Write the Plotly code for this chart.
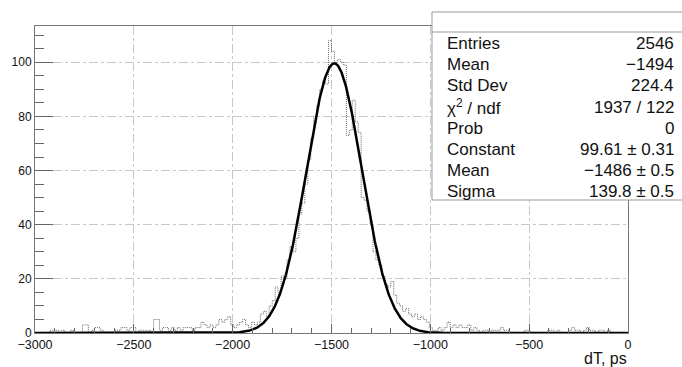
import numpy as np
import plotly.graph_objects as go

# ---- data ----
x_min, x_max, n_bins = -3000.0, 0.0, 200
counts = [
    0, 0, 0, 0, 0, 1, 1, 1, 0, 1,
    0, 0, 1, 0, 0, 0, 3, 3, 0, 1,
    2, 2, 1, 0, 0, 0, 0, 1, 1, 2,
    2, 1, 2, 2, 0, 1, 1, 1, 1, 0,
    5, 5, 1, 2, 2, 1, 2, 1, 2, 1,
    2, 2, 2, 1, 2, 2, 4, 3, 2, 3,
    2, 3, 5, 4, 5, 6, 3, 2, 3, 4,
    5, 3, 2, 4, 3, 4, 7, 8, 6, 10,
    12, 17, 15, 21, 20, 27, 32, 30, 35, 44,
    48, 55, 64, 72, 80, 84, 90, 93, 92, 108,
    104, 100, 101, 100, 99, 73, 75, 86, 78, 74,
    50, 49, 45, 40, 30, 27, 25, 21, 18, 17,
    19, 14, 11, 10, 8, 9, 7, 6, 7, 5,
    6, 5, 4, 2, 1, 1, 2, 1, 2, 4,
    2, 3, 2, 3, 2, 2, 3, 1, 2, 1,
    0, 1, 1, 0, 1, 1, 1, 2, 1, 1,
    0, 0, 0, 0, 0, 1, 1, 0, 0, 0,
    0, 0, 0, 1, 1, 0, 1, 0, 0, 0,
    1, 2, 1, 1, 0, 1, 2, 1, 1, 0,
    1, 1, 0, 1, 0, 0, 0, 0, 0, 0,
]
fit_constant, fit_mean, fit_sigma = 99.61, -1486.0, 139.8
stats_labels = ["Entries", "Mean", "Std Dev", "χ<sup>2</sup> / ndf", "Prob",
                "Constant", "Mean", "Sigma"]
stats_values = ["2546", "−1494", "224.4", "1937 / 122", "0",
                "99.61 ± 0.31", "−1486 ± 0.5", "139.8 ± 0.5"]
x_title = "dT, ps"

# ---- figure geometry ----
W, H = 682, 367
ML, MR, MT, MB = 35, 54, 26, 34
pw, ph = W - ML - MR, H - MT - MB


def px2paper_x(px):
    return (px - ML) / pw


def px2paper_y(py):
    return (H - MB - py) / ph


edges = np.linspace(x_min, x_max, n_bins + 1)
hist_y = list(counts) + [counts[-1]]

xf = np.linspace(x_min, x_max, 1200)
yf = fit_constant * np.exp(-0.5 * ((xf - fit_mean) / fit_sigma) ** 2)

fig = go.Figure()
fig.add_trace(go.Scatter(x=edges, y=hist_y, mode="lines", line_shape="hv",
                         line=dict(color="#6a6a6a", width=1, dash="1px,1px"),
                         hoverinfo="skip", showlegend=False))
fig.add_trace(go.Scatter(x=xf, y=yf, mode="lines",
                         line=dict(color="black", width=2.5),
                         hoverinfo="skip", showlegend=False))

font = "Liberation Sans, Arial, Helvetica, sans-serif"
y_top = 1.05 * max(counts)

fig.update_layout(
    width=W, height=H,
    margin=dict(l=ML, r=MR, t=MT, b=MB),
    paper_bgcolor="white", plot_bgcolor="white",
    font=dict(family=font, color="#111", size=12),
    showlegend=False,
    xaxis=dict(range=[x_min, x_max], tickvals=[-3000, -2500, -2000, -1500, -1000, -500, 0],
               ticks="inside", ticklen=9, tickcolor="#666", tickwidth=1,
               minor=dict(ticks="inside", ticklen=5, dtick=100, tick0=-3000, tickcolor="#666", showgrid=False),
               showgrid=True, gridcolor="#c8c8c8", griddash="dashdot", gridwidth=1,
               showline=True, linecolor="#777", linewidth=1, mirror=True,
               zeroline=False, tickfont=dict(size=12.5, color="#111"), fixedrange=True),
    yaxis=dict(range=[0, y_top], tickvals=[0, 20, 40, 60, 80, 100],
               ticks="inside", ticklen=18, tickcolor="#666", tickwidth=1,
               minor=dict(ticks="inside", ticklen=9, dtick=5, tick0=0, tickcolor="#666", showgrid=False),
               showgrid=True, gridcolor="#c8c8c8", griddash="dashdot", gridwidth=1,
               showline=True, linecolor="#777", linewidth=1, mirror=True,
               zeroline=False, tickfont=dict(size=12, color="#111"), fixedrange=True),
)

# stats box
bx0, bx1, by0, by1, bsep = 432, 700, 12, 200, 32
fig.add_shape(type="rect", xref="paper", yref="paper",
              x0=px2paper_x(bx0), x1=px2paper_x(bx1),
              y0=px2paper_y(by1), y1=px2paper_y(by0),
              line=dict(color="#999", width=1), fillcolor="white", layer="above")
fig.add_shape(type="line", xref="paper", yref="paper",
              x0=px2paper_x(bx0), x1=px2paper_x(bx1),
              y0=px2paper_y(bsep), y1=px2paper_y(bsep),
              line=dict(color="#999", width=1), layer="above")

row0, dy = 43.8, 21.07
for k, (lab, val) in enumerate(zip(stats_labels, stats_values)):
    yc = px2paper_y(row0 + k * dy)
    fig.add_annotation(x=px2paper_x(445), y=yc, xref="paper", yref="paper",
                       text=lab, showarrow=False, xanchor="left", yanchor="middle",
                       font=dict(size=17, color="#111", family=font))
    fig.add_annotation(x=px2paper_x(676), y=yc, xref="paper", yref="paper",
                       text=val, showarrow=False, xanchor="right", yanchor="middle",
                       font=dict(size=17, color="#111", family=font))

fig.add_annotation(x=px2paper_x(629), y=px2paper_y(358), xref="paper", yref="paper",
                   text=x_title, showarrow=False, xanchor="right", yanchor="middle",
                   font=dict(size=16, color="#111", family=font))

fig.write_html("out.html", config={"displayModeBar": False, "staticPlot": True})
